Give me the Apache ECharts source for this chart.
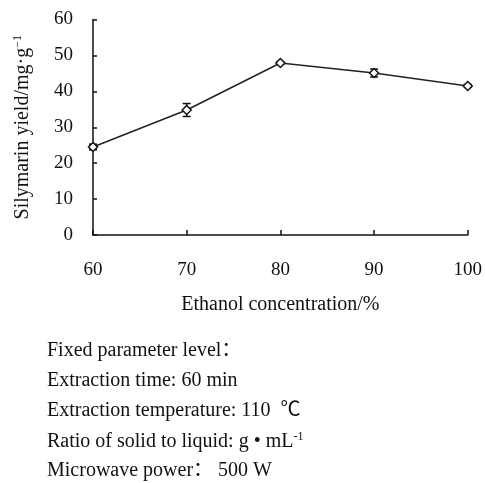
<!DOCTYPE html>
<html>
<head>
<meta charset="utf-8">
<script src="https://cdn.jsdelivr.net/npm/echarts@6/dist/echarts.min.js"></script>
<style>
  html, body { margin: 0; padding: 0; background: #fff; }
  #chart { width: 485px; height: 483px; }
</style>
</head>
<body>
<div id="chart"></div>
<script>
// Ethanol concentration (%) vs. silymarin yield (mg/g)
var concentrations = [60, 70, 80, 90, 100];
var yields = [24.5, 34.8, 47.9, 45.1, 41.5];
var yieldErrors = [0.8, 1.8, 0.4, 1.1, 0.4];
var yTicks = [0, 10, 20, 30, 40, 50, 60];

var fixedParams = [
  'Fixed parameter level\uff1a',
  'Extraction time: 60 min',
  'Extraction temperature: 110  \u2103',
  'Ratio of solid to liquid: g \u2022 mL{sup|-1}',
  'Microwave power\uff1a 500 W'
];

var serif = '"Liberation Serif", "Times New Roman", "Noto Sans CJK SC", serif';
var ink = '#111';

var points = concentrations.map(function (c, i) { return [c, yields[i]]; });
var errorData = concentrations.map(function (c, i) {
  return [c, yields[i] - yieldErrors[i], yields[i] + yieldErrors[i]];
});

var chart = echarts.init(document.getElementById('chart'), null, { renderer: 'canvas' });

var paramTexts = fixedParams.map(function (t, i) {
  return {
    type: 'text',
    left: 47,
    top: 341 + i * 30,
    style: {
      text: t,
      font: '20px ' + serif,
      fill: ink,
      rich: {
        sup: { fontSize: 12, fontFamily: serif, fill: ink, verticalAlign: 'top', padding: [0, 0, 9, 0] }
      }
    }
  };
});

chart.setOption({
  backgroundColor: '#fff',
  animation: false,
  grid: { left: 93, right: 17, top: 19.5, bottom: 248 },
  xAxis: {
    type: 'value',
    min: 60,
    max: 100,
    interval: 10,
    name: 'Ethanol concentration/%',
    nameLocation: 'middle',
    nameGap: 60,
    nameTextStyle: { fontFamily: serif, fontSize: 20, color: ink },
    axisLine: { onZero: false, lineStyle: { color: ink, width: 1.5 } },
    axisTick: { inside: true, length: 5, lineStyle: { color: ink, width: 1.5 } },
    axisLabel: { margin: 26, fontFamily: serif, fontSize: 19, color: ink },
    splitLine: { show: false }
  },
  yAxis: {
    type: 'value',
    min: yTicks[0],
    max: yTicks[yTicks.length - 1],
    interval: 10,
    name: '{m|Silymarin yield/mg\u00b7g}{sup|\u22121}',
    nameLocation: 'middle',
    nameGap: 60,
    nameRotate: 90,
    nameTextStyle: {
      fontFamily: serif,
      fontSize: 20,
      color: ink,
      rich: {
        m: { fontFamily: serif, fontSize: 20, color: ink },
        sup: { fontFamily: serif, fontSize: 12, color: ink, verticalAlign: 'top', padding: [0, 0, 9, 0] }
      }
    },
    axisLine: { show: true, lineStyle: { color: ink, width: 1.5 } },
    axisTick: { show: true, inside: true, length: 4, lineStyle: { color: ink, width: 1.5 } },
    axisLabel: { margin: 20, fontFamily: serif, fontSize: 19, color: ink },
    splitLine: { show: false }
  },
  graphic: paramTexts,
  series: [
    {
      type: 'custom',
      z: 3,
      data: errorData,
      renderItem: function (params, api) {
        var x = api.value(0);
        var lo = api.coord([x, api.value(1)]);
        var hi = api.coord([x, api.value(2)]);
        var half = 4;
        var style = { stroke: ink, lineWidth: 1.5 };
        return {
          type: 'group',
          children: [
            { type: 'line', shape: { x1: lo[0], y1: lo[1], x2: hi[0], y2: hi[1] }, style: style },
            { type: 'line', shape: { x1: lo[0] - half, y1: lo[1], x2: lo[0] + half, y2: lo[1] }, style: style },
            { type: 'line', shape: { x1: hi[0] - half, y1: hi[1], x2: hi[0] + half, y2: hi[1] }, style: style }
          ]
        };
      }
    },
    {
      type: 'line',
      z: 4,
      data: points,
      symbol: 'diamond',
      symbolSize: 9,
      lineStyle: { color: '#222', width: 1.5 },
      itemStyle: { color: '#fff', borderColor: ink, borderWidth: 1.5 }
    }
  ]
});
</script>
</body>
</html>
